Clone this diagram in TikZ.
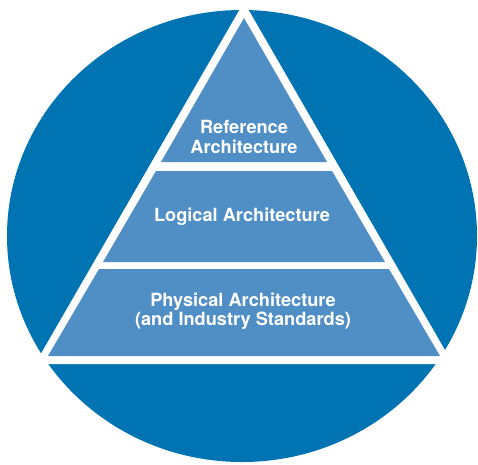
\documentclass[tikz,border=0pt]{standalone}
\usepackage{fontspec}
\setmainfont{TeX Gyre Heros}
\usepackage{xcolor}
\definecolor{ringblue}{HTML}{0073B2}
\definecolor{layerblue}{HTML}{508EC6}
\tikzset{layer/.style = {fill=layerblue},
         layertext/.style = {text=white, inner sep=0pt, align=center,
                             font=\bfseries\fontsize{18.2}{19.5}\selectfont}}

\begin{document}
\begin{tikzpicture}[x=1pt,y=-1pt]
                    \useasboundingbox (0,0) rectangle (478,464);

                    \fill[ringblue] (242,236) ellipse [x radius=235, y radius=226];
                    \fill[white] (244,2) -- (453,364) -- (35,364) -- cycle;

                    \fill[layer] (244,18) -- (327,162) -- (161,162) -- cycle;
                    \fill[layer] (156,171) -- (332,171) -- (385,262) -- (103,262) -- cycle;
                    \fill[layer] (99,269) -- (389,269) -- (440,356) -- (48,356) -- cycle;

                    \node[layertext] (ref) at (244,137) {Reference\\Architecture};
                    \node[layertext] (log) at (242,217) {Logical Architecture};
                    \node[layertext] (phy) at (243,311) {Physical Architecture\\(and Industry Standards)};
                \end{tikzpicture}
\end{document}
